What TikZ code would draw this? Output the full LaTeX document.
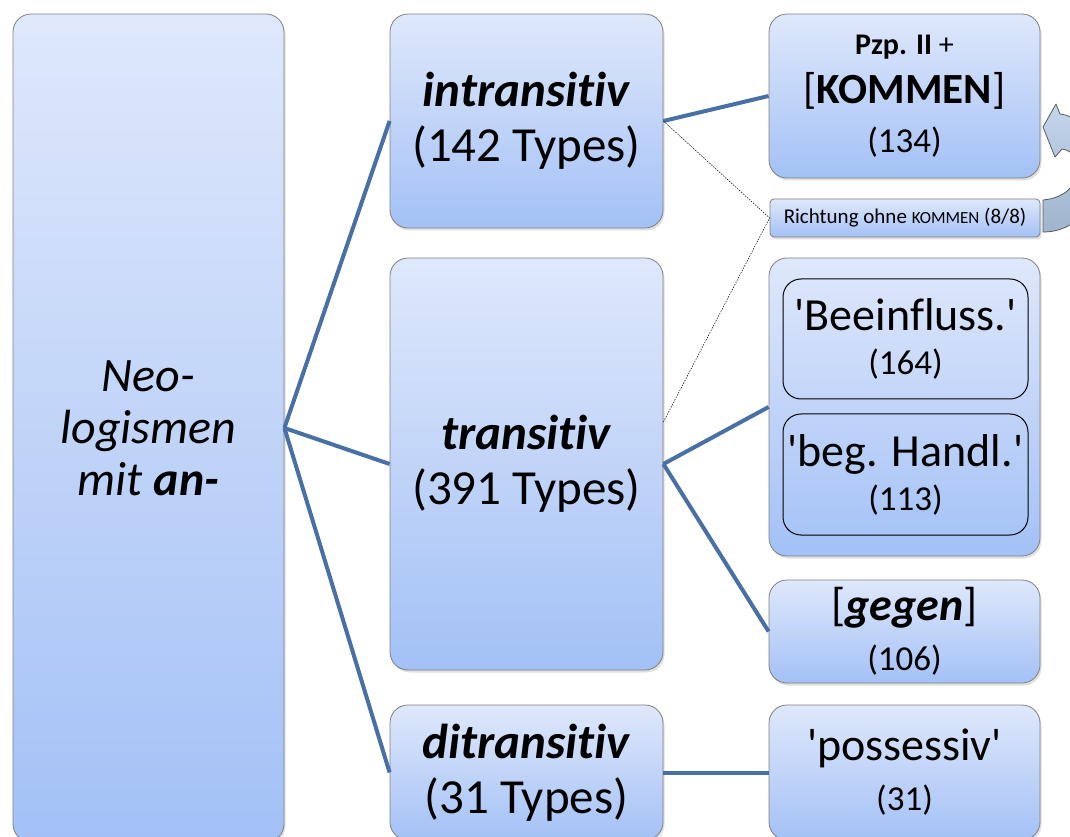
\documentclass[tikz,border=0pt]{standalone}
\usepackage{fontspec}
\setmainfont{Carlito}[Ligatures={TeXOff,CommonOff}]
\usetikzlibrary{shadows}
\definecolor{boxtop}{RGB}{223,232,251}
\definecolor{boxbot}{RGB}{163,193,246}
\definecolor{boxline}{RGB}{128,128,128}
\definecolor{linkblue}{RGB}{72,112,166}
\definecolor{arrowtop}{RGB}{196,213,236}
\definecolor{arrowbot}{RGB}{160,180,206}
\def\fs#1#2{\fontsize{#1}{#2}\selectfont}

\tikzset{
  catbox/.style={draw=boxline, line width=0.8pt, rounded corners=18pt,
    top color=boxtop, bottom color=boxbot, inner sep=0pt, align=center,
    drop shadow={opacity=0.25, shadow xshift=1.5pt, shadow yshift=-2.5pt}},
  subbox/.style={draw=black, line width=1pt, rounded corners=18pt, inner sep=0pt, align=center},
  link/.style={draw=linkblue, line width=4pt},
  hint/.style={draw=black, line width=0.5pt, dash pattern=on 1.5pt off 1.2pt},
}

\begin{document}
\begin{tikzpicture}[x=1pt, y=1pt]
		%%%%% START %%%%%
		\useasboundingbox (0,0) rectangle (1070,836);
		
		\node[catbox, minimum width=271pt, minimum height=828pt, font=\fs{48}{52}\itshape] (root) at (148.5,408) {Neo-\\logismen\\mit \textbf{an-}};
		
		\node[catbox, minimum width=273pt, minimum height=214pt, font=\fs{49}{55}] (intr) at (526.5,715) {\textbf{\textit{intransitiv}}\\(142 Types)};
		\node[catbox, minimum width=273pt, minimum height=412pt, font=\fs{49}{55}] (trans) at (526.5,372) {\textbf{\textit{transitiv}}\\(391 Types)};
		\node[catbox, minimum width=273pt, minimum height=135pt, font=\fs{49}{55}] (ditr) at (526.5,63.5) {\textbf{\textit{ditransitiv}}\\(31 Types)};
		
		\node[catbox, minimum width=271pt, minimum height=164pt, font=\fs{43}{49}] (pzp) at (904.5,740) {{\fs{30}{36}\textbf{Pzp. II} +}\\{}[\textbf{KOMMEN}]\\{\fs{35}{40}(134)}};
		\node[catbox, rounded corners=4pt, minimum width=270pt, minimum height=38pt, font=\fs{21}{24}] (rich) at (905,618) {Richtung ohne {\fs{17}{20}KOMMEN} (8/8)};
		
		\node[catbox, minimum width=271pt, minimum height=298pt] (cont) at (904.5,429) {};
		\node[subbox, minimum width=245pt, minimum height=120pt, font=\fs{46}{44}] (beein) at (905.5,497) {'Beeinfluss.'\\{\fs{35}{40}(164)}};
		\node[subbox, minimum width=245pt, minimum height=121pt, font=\fs{46}{44}] (handl) at (905.5,361.5) {'beg. Handl.'\\{\fs{35}{40}(113)}};
		
		\node[catbox, minimum width=271pt, minimum height=103pt, font=\fs{46}{50}] (gegen) at (904.5,204.5) {[\textbf{\textit{gegen}}]\\{\fs{35}{40}(106)}};
		\node[catbox, minimum width=271pt, minimum height=135pt, font=\fs{46}{50}] (poss) at (904.5,63.5) {'possessiv'\\{\fs{35}{40}(31)}};
		
		\draw[link] (root.east) -- (intr.west);
		\draw[link] (root.east) -- (trans.west);
		\draw[link] (root.east) -- (ditr.west);
		\draw[link] (intr.east) -- (pzp.west);
		\draw[link] (trans.east) -- (cont.west);
		\draw[link] (trans.east) -- (gegen.west);
		\draw[link] (ditr.east) -- (poss.west);
		
		\draw[hint] (intr.east) -- (rich.west);
		\draw[hint] ([yshift=42pt]trans.east) -- (rich.west);
		
		% curved arrow back to the KOMMEN box
		\begin{scope}
		\clip (0,0) rectangle (1070,836);
		\draw[top color=arrowtop, bottom color=arrowbot, draw=black!65, line width=0.8pt, line join=round] (1043,709) -- (1056,732) -- (1060,722) .. controls (1112,716) and (1112,604) .. (1043,604) -- (1043,636) .. controls (1086,640) and (1086,684) .. (1062,687) -- (1055,679) -- cycle;
		\end{scope}
		%%%%% END %%%%%
\end{tikzpicture}
\end{document}
